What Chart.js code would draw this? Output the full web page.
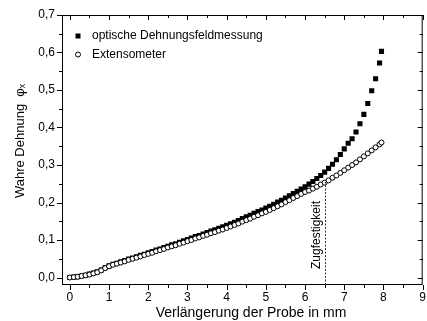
<!DOCTYPE html>
<html>
<head>
<meta charset="utf-8">
<script src="https://cdn.jsdelivr.net/npm/chart.js@4"></script>
<style>
  html, body { margin: 0; padding: 0; background: #fff; overflow: hidden; }
  #wrap { width: 427px; height: 321px; overflow: hidden; }
</style>
</head>
<body>
<div id="wrap"><canvas id="strainChart" width="431" height="321"></canvas></div>
<script>
// elongation in mm
const elongation = [
  0.0, 0.1, 0.2, 0.3, 0.4, 0.5, 0.6, 0.7, 0.8, 0.9,
  1.0, 1.1, 1.2, 1.3, 1.4, 1.5, 1.6, 1.7, 1.8, 1.9,
  2.0, 2.1, 2.2, 2.3, 2.4, 2.5, 2.6, 2.7, 2.8, 2.9,
  3.0, 3.1, 3.2, 3.3, 3.4, 3.5, 3.6, 3.7, 3.8, 3.9,
  4.0, 4.1, 4.2, 4.3, 4.4, 4.5, 4.6, 4.7, 4.8, 4.9,
  5.0, 5.1, 5.2, 5.3, 5.4, 5.5, 5.6, 5.7, 5.8, 5.9,
  6.0, 6.1, 6.2, 6.3, 6.4, 6.5, 6.6, 6.7, 6.8, 6.9,
  7.0, 7.1, 7.2, 7.3, 7.4, 7.5, 7.6, 7.7, 7.8, 7.9,
  7.95
];

// optische Dehnungsfeldmessung
const opticalStrain = [
  0.000, 0.001, 0.002, 0.004, 0.006, 0.009, 0.012, 0.015, 0.020, 0.026,
  0.031, 0.035, 0.038, 0.042, 0.045, 0.049, 0.052, 0.055, 0.059, 0.062,
  0.066, 0.069, 0.073, 0.076, 0.080, 0.083, 0.087, 0.090, 0.094, 0.098,
  0.101, 0.105, 0.109, 0.112, 0.116, 0.120, 0.124, 0.127, 0.131, 0.135,
  0.139, 0.143, 0.147, 0.152, 0.157, 0.162, 0.166, 0.171, 0.176, 0.180,
  0.185, 0.190, 0.195, 0.201, 0.206, 0.212, 0.218, 0.224, 0.230, 0.236,
  0.242, 0.249, 0.256, 0.264, 0.272, 0.281, 0.291, 0.302, 0.314, 0.328,
  0.343, 0.358, 0.370, 0.388, 0.410, 0.435, 0.464, 0.498, 0.530, 0.572,
  0.603
];

// Extensometer
const extensometerStrain = [
  0.000, 0.001, 0.002, 0.004, 0.006, 0.008, 0.011, 0.014, 0.019, 0.025,
  0.030, 0.034, 0.037, 0.040, 0.043, 0.047, 0.050, 0.053, 0.056, 0.060,
  0.063, 0.066, 0.070, 0.073, 0.076, 0.080, 0.083, 0.086, 0.090, 0.093,
  0.097, 0.100, 0.104, 0.107, 0.111, 0.114, 0.118, 0.121, 0.125, 0.128,
  0.132, 0.136, 0.140, 0.144, 0.149, 0.153, 0.157, 0.162, 0.166, 0.171,
  0.175, 0.180, 0.185, 0.190, 0.195, 0.201, 0.206, 0.212, 0.217, 0.223,
  0.228, 0.232, 0.237, 0.242, 0.248, 0.253, 0.259, 0.266, 0.272, 0.279,
  0.286, 0.293, 0.300, 0.307, 0.315, 0.323, 0.331, 0.339, 0.347, 0.355,
  0.360
];

const xTicks = [0, 1, 2, 3, 4, 5, 6, 7, 8, 9];
const yTicks = [0.0, 0.1, 0.2, 0.3, 0.4, 0.5, 0.6, 0.7];

// Zugfestigkeit marker
const tensileX = 6.52;
const tensileY = 0.255;

const FONT = '"Liberation Sans", Arial, sans-serif';

function toPoints(ys) {
  return elongation.map((x, i) => ({ x: x, y: ys[i] }));
}

// minor/major ticks on all four sides, frame, dashed marker, titles, legend
const decorations = {
  id: 'decorations',
  afterDraw(chart) {
    const ctx = chart.ctx;
    const a = chart.chartArea;
    const xs = chart.scales.x;
    const ys = chart.scales.y;
    ctx.save();
    ctx.strokeStyle = '#000';
    ctx.lineWidth = 1;
    ctx.strokeRect(a.left + 0.5, a.top + 0.5, a.right - a.left - 1, a.bottom - a.top - 1);

    ctx.beginPath();
    for (let v = 0; v <= 9.001; v += 0.5) {
      const px = Math.round(xs.getPixelForValue(v)) + 0.5;
      const len = Math.abs(v - Math.round(v)) < 0.01 ? 5 : 3;
      ctx.moveTo(px, a.bottom); ctx.lineTo(px, a.bottom + len);
      ctx.moveTo(px, a.top); ctx.lineTo(px, a.top + len);
    }
    for (let v = 0; v <= 0.7001; v += 0.05) {
      const py = Math.round(ys.getPixelForValue(v)) + 0.5;
      const major = Math.abs(v * 10 - Math.round(v * 10)) < 0.01;
      const len = major ? 5 : 3;
      ctx.moveTo(a.left, py); ctx.lineTo(a.left - len, py);
      ctx.moveTo(a.right, py); ctx.lineTo(a.right - len, py);
    }
    ctx.stroke();

    // Zugfestigkeit dashed line
    const lx = Math.round(xs.getPixelForValue(tensileX)) + 0.5;
    ctx.beginPath();
    ctx.setLineDash([2, 1.5]);
    ctx.strokeStyle = '#333';
    ctx.moveTo(lx, a.bottom);
    ctx.lineTo(lx, ys.getPixelForValue(tensileY));
    ctx.stroke();
    ctx.setLineDash([]);

    ctx.fillStyle = '#000';
    ctx.save();
    ctx.translate(lx - 9, a.bottom - 16);
    ctx.rotate(-Math.PI / 2);
    ctx.font = '12px ' + FONT;
    ctx.textAlign = 'left';
    ctx.textBaseline = 'middle';
    ctx.fillText('Zugfestigkeit', 0, 0);
    ctx.restore();

    // axis titles
    ctx.font = '14px ' + FONT;
    ctx.textAlign = 'center';
    ctx.textBaseline = 'middle';
    ctx.fillText('Verlängerung der Probe in mm', 251, 313);
    ctx.save();
    ctx.translate(20, 141);
    ctx.rotate(-Math.PI / 2);
    ctx.font = '13px ' + FONT;
    ctx.fillText('Wahre Dehnung  φₓ', 0, 0);
    ctx.restore();

    // legend
    ctx.font = '12px ' + FONT;
    ctx.textAlign = 'left';
    ctx.textBaseline = 'middle';
    const lgX = a.left + 16;
    const lgY = a.top + 21;
    chart.data.datasets.forEach((ds, i) => {
      const y = lgY + i * 18.5;
      ctx.fillStyle = ds.backgroundColor;
      ctx.strokeStyle = ds.borderColor;
      ctx.lineWidth = 1;
      if (ds.pointStyle === 'rect') {
        ctx.fillStyle = '#000';
        ctx.fillRect(lgX - 2.5, y - 2.5, 5, 5);
      } else {
        ctx.beginPath();
        ctx.arc(lgX, y, 2.5, 0, Math.PI * 2);
        ctx.fill();
        ctx.stroke();
      }
      ctx.fillStyle = '#000';
      ctx.fillText(ds.label, lgX + 14, y);
    });
    ctx.restore();
  }
};

new Chart(document.getElementById('strainChart'), {
  type: 'scatter',
  data: {
    datasets: [
      {
        label: 'optische Dehnungsfeldmessung',
        data: toPoints(opticalStrain),
        pointStyle: 'rect',
        pointRadius: 3.6,
        backgroundColor: '#000',
        borderColor: '#000',
        borderWidth: 0,
        order: 2
      },
      {
        label: 'Extensometer',
        data: toPoints(extensometerStrain),
        pointStyle: 'circle',
        pointRadius: 2.5,
        backgroundColor: '#fff',
        borderColor: '#000',
        borderWidth: 1,
        order: 1
      }
    ]
  },
  options: {
    responsive: false,
    animation: false,
    layout: { padding: { top: 15, right: 0, left: 0, bottom: 0 } },
    plugins: {
      legend: { display: false },
      tooltip: { enabled: false }
    },
    scales: {
      x: {
        type: 'linear',
        min: -0.2,
        max: 9,
        afterBuildTicks: s => { s.ticks = xTicks.map(v => ({ value: v })); },
        afterFit: s => { s.height = 36; },
        grid: { display: false, drawTicks: false },
        border: { display: false },
        ticks: {
          padding: 5,
          color: '#000',
          font: { family: FONT, size: 12 },
          maxRotation: 0,
          callback: v => String(v)
        }
      },
      y: {
        type: 'linear',
        min: -0.02,
        max: 0.7,
        afterBuildTicks: s => { s.ticks = yTicks.map(v => ({ value: v })); },
        afterFit: s => { s.width = 62; s.paddingTop = 0; s.paddingBottom = 0; },
        grid: { display: false, drawTicks: false },
        border: { display: false },
        ticks: {
          padding: 7,
          color: '#000',
          font: { family: FONT, size: 12 },
          callback: v => v.toFixed(1).replace('.', ',')
        }
      }
    }
  },
  plugins: [decorations]
});
</script>
</body>
</html>
